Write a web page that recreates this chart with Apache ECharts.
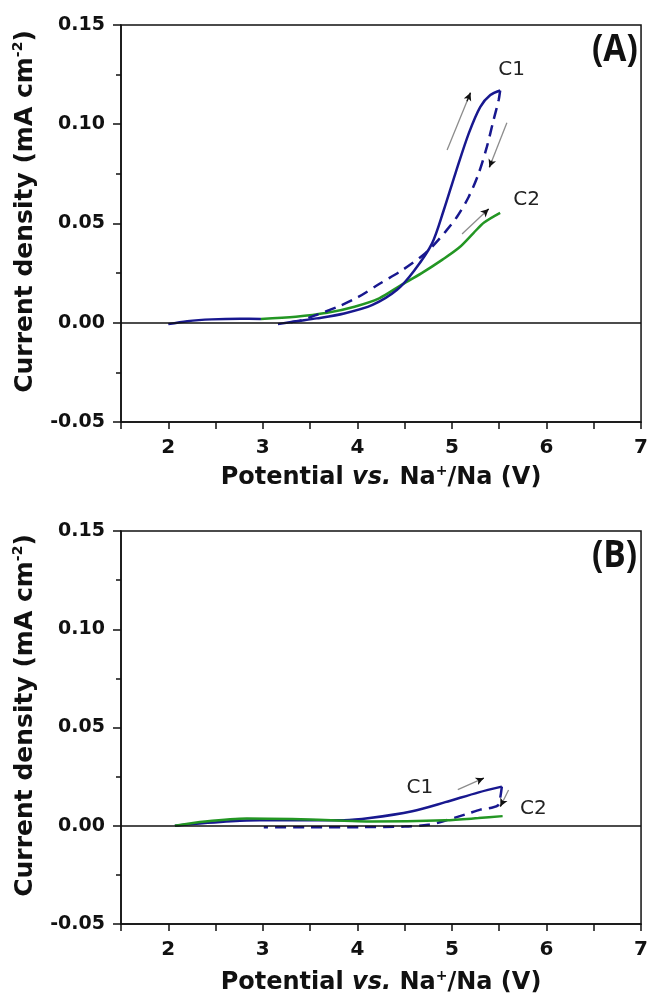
<!DOCTYPE html>
<html>
<head>
<meta charset="utf-8">
<script src="https://cdn.jsdelivr.net/npm/echarts@6/dist/echarts.min.js"></script>
<style>
  html, body { margin: 0; padding: 0; background: #fff; }
  #chart { width: 651px; height: 998px; }
</style>
</head>
<body>
<div id="chart"></div>
<script>
// panel A
const aC1Start = [[2.0, -0.0007], [2.2, 0.0008], [2.46, 0.0017], [2.76, 0.002], [2.98, 0.0019]];
const aC1Forward = [[3.16, -0.0007], [3.35, 0.0007], [3.57, 0.0022], [3.86, 0.0047], [4.16, 0.009], [4.42, 0.0166],
  [4.6, 0.0262], [4.79, 0.04], [4.914, 0.0568], [5.037, 0.0753], [5.178, 0.0954], [5.3, 0.1088],
  [5.406, 0.1147], [5.51, 0.117]];
const aC1Reverse = [[5.51, 0.117], [5.494, 0.1122], [5.44, 0.1021], [5.37, 0.0887], [5.283, 0.0753], [5.178, 0.0635],
  [5.054, 0.0534], [4.932, 0.0459], [4.79, 0.0383], [4.68, 0.0335], [4.49, 0.027], [4.23, 0.0195], [4.01, 0.013],
  [3.79, 0.008], [3.57, 0.004], [3.4, 0.0012], [3.3, 0.0003]];
const aC2 = [[2.98, 0.0019], [3.35, 0.003], [3.68, 0.005], [3.97, 0.0081], [4.23, 0.0123], [4.45, 0.0186],
  [4.68, 0.025], [4.9, 0.0318], [5.08, 0.038], [5.23, 0.0453], [5.34, 0.0505], [5.51, 0.0554]];

// panel B
const bC1Forward = [[2.07, 0.0], [2.39, 0.0014], [2.83, 0.0027], [3.31, 0.0029], [3.86, 0.0028], [4.13, 0.0039],
  [4.58, 0.0074], [4.93, 0.012], [5.283, 0.017], [5.528, 0.0199]];
const bC1Reverse = [[5.528, 0.0199], [5.51, 0.014], [5.49, 0.0105], [5.42, 0.0092], [5.3, 0.0082], [5.17, 0.0062],
  [5.05, 0.0044], [4.9, 0.0022], [4.75, 0.0005], [4.5, -0.0004], [4.05, -0.0007], [3.49, -0.0008], [3.01, -0.0008]];
const bC2 = [[2.07, 0.0], [2.39, 0.0022], [2.83, 0.0037], [3.31, 0.0034], [3.86, 0.0026], [4.13, 0.0022],
  [4.93, 0.0028], [5.28, 0.0039], [5.536, 0.0049]];

// arrows [x1, y1, x2, y2] and curve labels [x, y, text]
const aArrows = [[4.949, 0.087, 5.196, 0.1159], [5.581, 0.1008, 5.396, 0.0783], [5.107, 0.0447, 5.388, 0.0573]];
const bArrows = [[5.062, 0.0184, 5.336, 0.0242], [5.599, 0.0182, 5.512, 0.0098]];
const aLabels = [[5.631, 0.1276, 'C1'], [5.789, 0.0621, 'C2']];
const bLabels = [[4.661, 0.0195, 'C1'], [5.862, 0.0086, 'C2']];

const FONT = 'DejaVu Sans';
const BLUE = '#18188f';
const GREEN = '#239623';
const INK = '#111';

const grids = [
  { left: 121, top: 25, width: 522, height: 397, show: true, borderColor: INK, borderWidth: 1.5 },
  { left: 121, top: 531, width: 522, height: 397, show: true, borderColor: INK, borderWidth: 1.5 }
];

const xTitle = 'Potential {i|vs.} Na{sup|+}/Na (V)';
const yTitle = 'Current density (mA cm{sup|-2})';

const makeX = (gi, gap) => ({
  type: 'value', gridIndex: gi, min: 1.5, max: 7, interval: 0.5,
  name: xTitle, nameLocation: 'middle', nameGap: gap,
  nameTextStyle: {
    fontFamily: FONT, fontSize: 24, fontWeight: 'bold', color: INK, lineHeight: 28,
    rich: {
      i: { fontFamily: FONT, fontSize: 24, fontWeight: 'bold', fontStyle: 'italic', color: INK, lineHeight: 28 },
      sup: { fontFamily: FONT, fontSize: 14, fontWeight: 'bold', color: INK, lineHeight: 14, verticalAlign: 'top' }
    }
  },
  axisLine: { show: true, onZero: false, lineStyle: { color: INK, width: 1.5 } },
  axisTick: { show: true, inside: false, length: 7, lineStyle: { color: INK, width: 1.5 } },
  axisLabel: { fontFamily: FONT, fontSize: 20, fontWeight: 'bold', color: INK, margin: 16,
    formatter: v => (Number.isInteger(v) ? String(v) : '') },
  splitLine: { show: false }
});

const makeY = gi => ({
  type: 'value', gridIndex: gi, min: -0.05, max: 0.15, interval: 0.05,
  name: yTitle, nameLocation: 'middle', nameGap: 74, nameRotate: 90,
  nameTextStyle: {
    fontFamily: FONT, fontSize: 25, fontWeight: 'bold', color: INK, lineHeight: 28, padding: [0, 0, 0, 24],
    rich: {
      sup: { fontFamily: FONT, fontSize: 14, fontWeight: 'bold', color: INK, lineHeight: 14, verticalAlign: 'top' }
    }
  },
  axisLine: { show: true, onZero: false, lineStyle: { color: INK, width: 1.5 } },
  axisTick: { show: true, inside: false, length: 8, lineStyle: { color: INK, width: 1.5 } },
  minorTick: { show: true, splitNumber: 2, length: 5, lineStyle: { color: INK, width: 1.5 } },
  axisLabel: { fontFamily: FONT, fontSize: 19, fontWeight: 'bold', color: INK, margin: 16,
    formatter: v => v.toFixed(2) },
  splitLine: { show: false }
});

const curve = (gi, data, color, dashed) => ({
  type: 'line', xAxisIndex: gi, yAxisIndex: gi, data: data, showSymbol: false, smooth: 0.3,
  symbol: 'none', silent: true,
  lineStyle: { color: color, width: 2.5, type: dashed ? [11, 7] : 'solid' }
});

// zero line, gray arrow shafts, black heads, C1/C2 labels
const annot = (gi, arrows, labels) => [
  {
    type: 'line', xAxisIndex: gi, yAxisIndex: gi, data: [], silent: true,
    markLine: {
      silent: true, animation: false, symbol: ['none', 'none'], label: { show: false },
      lineStyle: { color: INK, width: 1.5, type: 'solid' },
      data: [{ yAxis: 0 }]
    }
  },
  {
    type: 'line', xAxisIndex: gi, yAxisIndex: gi, data: [], silent: true,
    markLine: {
      silent: true, animation: false, symbol: ['none', 'none'], label: { show: false },
      lineStyle: { color: '#8c8c8c', width: 1.3, type: 'solid' },
      data: arrows.map(a => [{ coord: [a[0], a[1]] }, { coord: [a[2], a[3]] }])
    }
  },
  {
    type: 'line', xAxisIndex: gi, yAxisIndex: gi, data: [], silent: true,
    markLine: {
      silent: true, animation: false, symbol: ['none', 'arrow'], symbolSize: [6, 8], label: { show: false },
      lineStyle: { color: '#111', width: 1.3, type: 'solid' },
      data: arrows.map(a => [
        { coord: [a[0] + 0.85 * (a[2] - a[0]), a[1] + 0.85 * (a[3] - a[1])] },
        { coord: [a[2], a[3]] }
      ])
    },
    markPoint: {
      silent: true, animation: false, symbolSize: 0,
      label: { show: true, position: 'inside', fontFamily: FONT, fontSize: 20, color: '#222',
        formatter: p => p.name },
      data: labels.map(l => ({ name: l[2], coord: [l[0], l[1]] }))
    }
  }
];

const panelLabel = (text, top) => ({
  type: 'text', left: 592, top: top, scaleX: 0.88,
  style: { text: text, fontFamily: 'Open Sans', fontSize: 38, fontWeight: 'bold', fill: INK }
});

const option = {
  animation: false,
  backgroundColor: '#fff',
  grid: grids,
  xAxis: [makeX(0, 42), makeX(1, 45)],
  yAxis: [makeY(0), makeY(1)],
  graphic: [panelLabel('(A)', 31), panelLabel('(B)', 537)],
  series: [
    curve(0, aC1Start, BLUE, false),
    curve(0, aC2, GREEN, false),
    curve(0, aC1Reverse, BLUE, true),
    curve(0, aC1Forward, BLUE, false),
    curve(1, bC1Reverse, BLUE, true),
    curve(1, bC1Forward, BLUE, false),
    curve(1, bC2, GREEN, false)
  ].concat(annot(0, aArrows, aLabels), annot(1, bArrows, bLabels))
};

const chart = echarts.init(document.getElementById('chart'));
chart.setOption(option);
</script>
</body>
</html>
